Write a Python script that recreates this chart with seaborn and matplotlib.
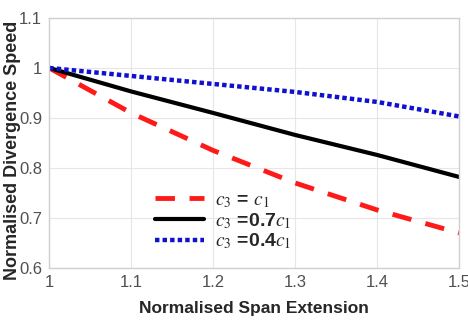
import numpy as np
import pandas as pd
import seaborn as sns
import matplotlib.pyplot as plt

span = [1.0, 1.1, 1.2, 1.3, 1.4, 1.5]
speed_c1 = [1.0, 0.91, 0.835, 0.77, 0.716, 0.67]
speed_07c1 = [1.0, 0.953, 0.91, 0.866, 0.826, 0.782]
speed_04c1 = [1.0, 0.984, 0.968, 0.952, 0.932, 0.903]
labels = [r'$c_3$ = $c_1$', r'$c_3$ =0.7$c_1$', r'$c_3$ =0.4$c_1$']

sns.set_style("whitegrid")
plt.rcParams['font.family'] = ['Liberation Sans', 'DejaVu Sans']
plt.rcParams['mathtext.fontset'] = 'stix'

fig = plt.figure(figsize=(4.68, 3.26), dpi=100)
ax = fig.add_axes([0.105, 0.178, 0.876, 0.767])

sns.lineplot(x=span, y=speed_c1, ax=ax, color='#ff1a1a', lw=3.5, label=labels[0])
sns.lineplot(x=span, y=speed_07c1, ax=ax, color='black', lw=3, label=labels[1])
sns.lineplot(x=span, y=speed_04c1, ax=ax, color='#1010d0', lw=3.2, label=labels[2])
ax.lines[0].set_dashes([4, 3])
ax.lines[2].set_dashes([1, 0.7])

ax.set_xlim(1, 1.5)
ax.set_ylim(0.6, 1.1)
ax.set_xticks([1, 1.1, 1.2, 1.3, 1.4, 1.5])
ax.set_xticklabels(['1', '1.1', '1.2', '1.3', '1.4', '1.5'])
ax.set_yticks([0.6, 0.7, 0.8, 0.9, 1.0, 1.1])
ax.set_yticklabels(['0.6', '0.7', '0.8', '0.9', '1', '1.1'])
ax.tick_params(labelsize=12, colors='#505050', direction='in', length=3, pad=5)
ax.grid(color='#e6e6e6', lw=0.8)
for s in ax.spines.values():
    s.set_color('#d0d0d0')
    s.set_linewidth(1)

ax.set_xlabel('Normalised Span Extension', fontsize=12.5, fontweight='bold', labelpad=8)
ax.set_ylabel('Normalised Divergence Speed', fontsize=13, fontweight='bold')
ax.yaxis.set_label_coords(-0.068, 0.47)

leg = ax.legend(loc='upper left', bbox_to_anchor=(0.225, 0.36), frameon=False,
                handlelength=2.5, labelspacing=0.05, borderpad=0.2, handletextpad=0.6,
                prop={'weight': 'bold', 'size': 14})

fig.savefig('out.png', dpi=100)
